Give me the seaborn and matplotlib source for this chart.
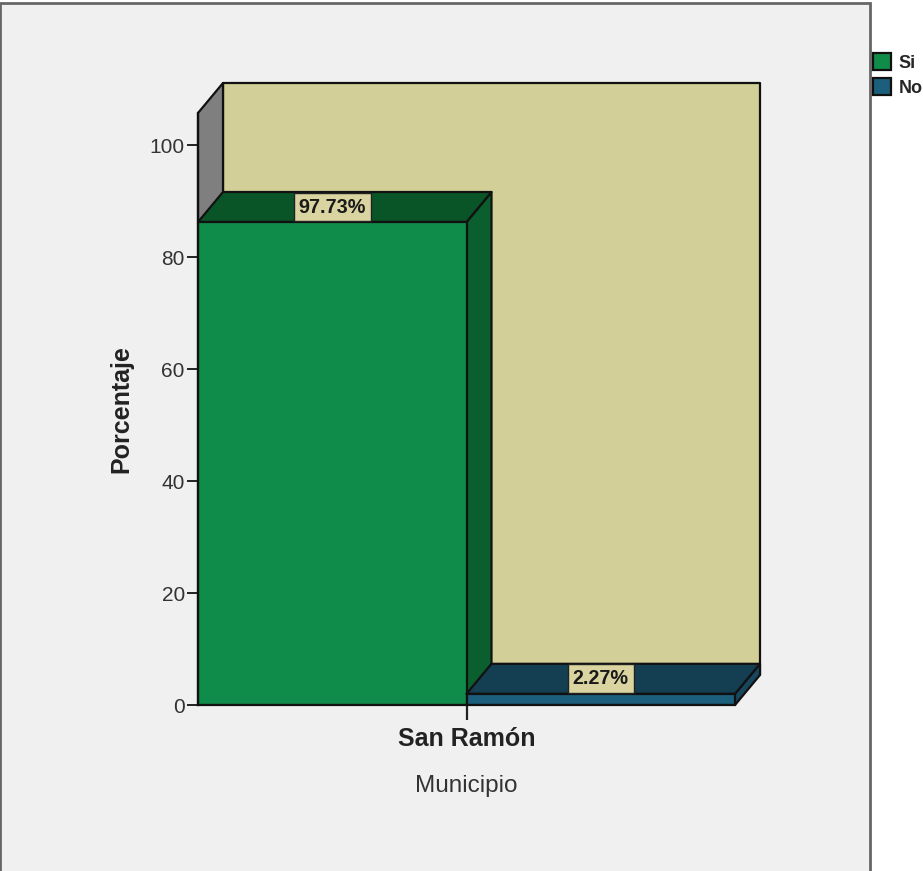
import matplotlib
matplotlib.use('Agg')
import matplotlib.pyplot as plt
from matplotlib.patches import Polygon, Rectangle
import pandas as pd
import seaborn as sns

# Data (bar heights as drawn, labels as printed)
municipio = ['San Ramón', 'San Ramón']
respuesta = ['Si', 'No']
altura = [86.25, 2.0]
etiquetas = ['97.73%', '2.27%']
y_ticks = [0, 20, 40, 60, 80, 100]

front = {'Si': '#108c4a', 'No': '#1c5f7c'}
top = {'Si': '#0a5528', 'No': '#143f52'}
side = {'Si': '#0b5e2e', 'No': '#18465e'}
box_color = '#d9d4a0'
wall_color = '#d3cf98'
edge = '#111111'

df = pd.DataFrame({'Municipio': municipio, 'Respuesta': respuesta, 'Porcentaje': altura})

W, H = 923, 871
sns.set_theme(style='white')
plt.rcParams['font.family'] = ['Liberation Sans', 'DejaVu Sans']

fig = plt.figure(figsize=(W / 100, H / 100), dpi=100, facecolor='white')
fig.patches.append(Rectangle((0, -0.01), 870 / W, 1.01 - 3 / H, transform=fig.transFigure,
                             facecolor='#f0f0f0', edgecolor='#666666', linewidth=2, zorder=-5))

# front plane of the 3D box, in pixels
left, right, bottom, front_top = 198, 735, 705, 113
ax = fig.add_axes([left / W, (H - bottom) / H, (right - left) / W, (bottom - front_top) / H])
ax.patch.set_alpha(0)

sns.barplot(data=df, x='Municipio', y='Porcentaje', hue='Respuesta', hue_order=respuesta,
            palette=front, width=1, gap=0, edgecolor=edge, linewidth=1.6, saturation=1,
            ax=ax, zorder=3)

ax.set_xlim(-0.5, 0.5)
ax.set_ylim(0, (bottom - front_top) / 5.6)

# depth of the 3D effect converted to data units
dx = 25 / (right - left)
dy = 30 / 5.6
ymax = ax.get_ylim()[1]


def poly(points, color, z):
    ax.add_patch(Polygon(points, closed=True, facecolor=color, edgecolor=edge,
                         linewidth=1.6, clip_on=False, zorder=z, joinstyle='round'))


bars = sorted([c[0] for c in ax.containers], key=lambda b: b.get_x())

# back wall and left wall
poly([(-0.5 + dx, dy), (0.5 + dx, dy), (0.5 + dx, ymax + dy), (-0.5 + dx, ymax + dy)], wall_color, 1)
poly([(-0.5, 0), (-0.5 + dx, dy), (-0.5 + dx, ymax + dy), (-0.5, ymax)], '#7f7f7f', 1)

for i, (bar, name, txt) in enumerate(zip(bars, respuesta, etiquetas)):
    x0 = bar.get_x()
    x1 = x0 + bar.get_width()
    h = bar.get_height()
    poly([(x1, 0), (x1 + dx, dy), (x1 + dx, h + dy), (x1, h)], side[name], 4 + i)
    poly([(x0, h), (x0 + dx, h + dy), (x1 + dx, h + dy), (x1, h)], top[name], 4 + i)
    bar.set_zorder(5 + i)
    ax.text((x0 + x1) / 2, h + dy / 2, txt, ha='center', va='center', fontsize=14.2,
            fontweight='bold', color='#1a1a1a', zorder=10, clip_on=False,
            bbox=dict(boxstyle='square,pad=0.25', facecolor=box_color, edgecolor='#222222', linewidth=1))

ax.set_yticks(y_ticks)
ax.set_xticks([0])
ax.set_xticklabels(['San Ramón'], fontsize=18, fontweight='bold', color='#222222')
ax.tick_params(axis='y', left=True, length=8, width=1.4, color='#222222', labelsize=15,
               labelcolor='#333333', pad=1.5)
ax.tick_params(axis='x', bottom=True, length=11, width=1.6, color='#222222', pad=5)
ax.set_xlabel('Municipio', fontsize=17.5, color='#333333', labelpad=17)
ax.set_ylabel('Porcentaje', fontsize=18, fontweight='bold', color='#222222', labelpad=12)

for s in ['top', 'right']:
    ax.spines[s].set_visible(False)
for s in ['left', 'bottom']:
    ax.spines[s].set_color(edge)
    ax.spines[s].set_linewidth(1.6)
    ax.spines[s].set_zorder(8)

sns.move_legend(ax, loc='upper left', bbox_to_anchor=(873 / W, 1 - 53 / H),
                bbox_transform=fig.transFigure, title=None, frameon=False,
                handlelength=1.0, handleheight=1.05, handletextpad=0.4,
                labelspacing=0.38, borderpad=0, borderaxespad=0,
                prop={'weight': 'bold', 'size': 13})

fig.savefig('out.png', dpi=100)
